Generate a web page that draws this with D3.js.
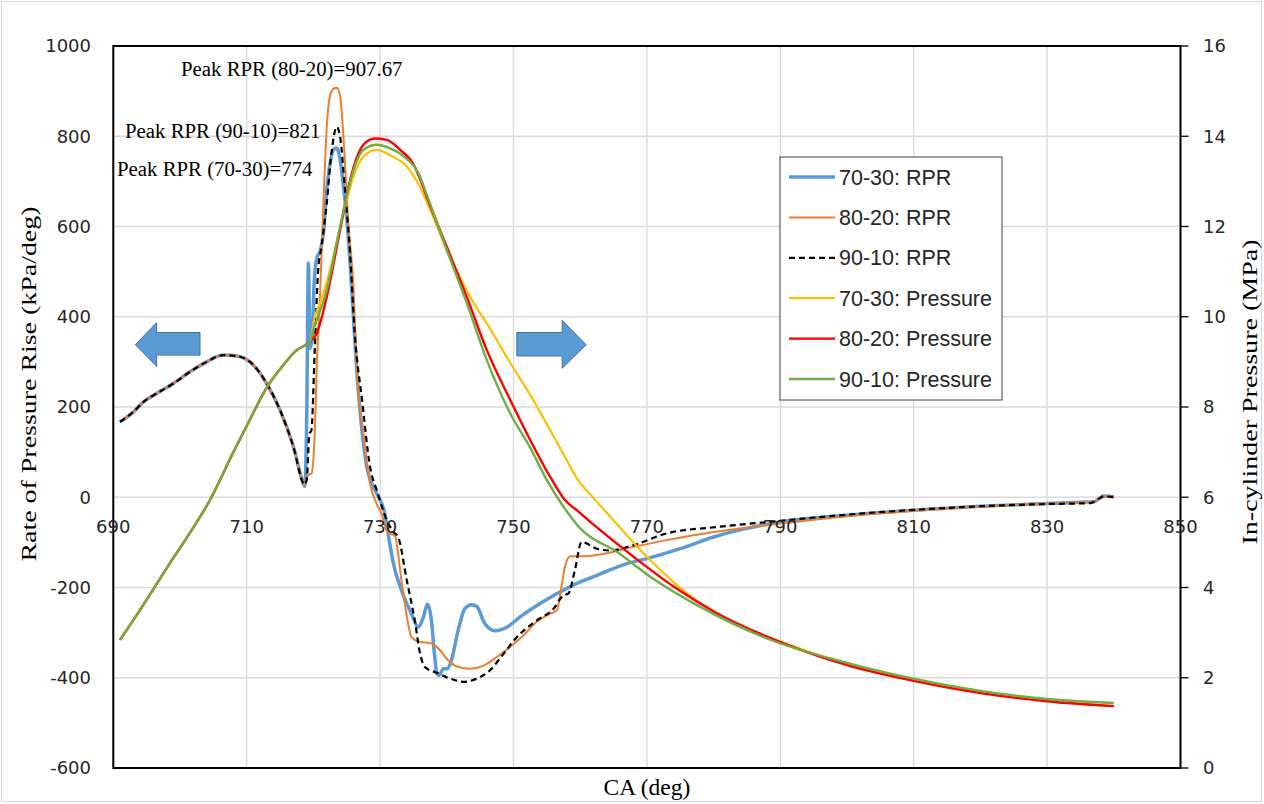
<!DOCTYPE html>
<html>
<head>
<meta charset="utf-8">
<script src="https://cdn.jsdelivr.net/npm/d3@7"></script>
<style>
body { margin: 0; background: #fff; }
</style>
</head>
<body>
<svg id="chart" width="1264" height="804"></svg>
<script>
// crank angle (deg) / rate of pressure rise (kPa/deg) -- identical for all blends before ignition
const rprCommon = [[691,167],[693,189],[694.5,211],[696.5,230],[699,252],[701.5,278],[704,300],[706.5,315],[708.5,313],[710.5,300],[713,252],[715,193],[717,112],[718.5,30]];

const rpr7030 = [[718.7,24],[719.0,180],[719.25,519],[719.5,330],[719.8,350],[720.1,470],[720.5,530],[721,545],[721.5,585],[722,680],[722.5,740],[723,770],[723.5,774],[724,748],[724.5,690],[725,620],[725.5,520],[726,400],[726.5,280],[727,190],[727.5,120],[728,67],[728.5,40],[729.5,8],[730.7,-36],[731.3,-90],[732,-147],[733.2,-206],[734.7,-258],[735.7,-288],[736.5,-265],[737.1,-237],[737.7,-273],[738.1,-340],[738.5,-390],[738.8,-395],[739.5,-380],[740.1,-380],[740.7,-361],[741.7,-295],[742.7,-247],[743.7,-238],[744.5,-242],[745.7,-280],[747.2,-296],[749,-288],[751,-265],[753.5,-240],[756.5,-214],[759.5,-191],[762.5,-173],[767,-147],[770,-136],[775,-114],[780,-88],[785,-69],[790,-55],[800,-40],[810,-29],[820,-20],[830,-14],[835,-11],[837,-10],[838,-1],[838.5,3],[840,1]];

const rpr8020 = [[718.6,28],[719.2,49],[719.7,52],[720.2,141],[720.5,289],[721,450],[721.5,650],[722,820],[722.5,890],[723,905],[723.5,907.67],[724,890],[724.5,800],[725.2,614],[726,466],[726.5,289],[727.5,141],[728.5,30],[729.5,-15],[730.2,-36],[731,-75],[731.5,-81],[732.2,-85],[733.2,-184],[734.2,-280],[734.7,-310],[736,-321],[737.5,-323],[739,-339],[740,-358],[741.5,-375],[743.5,-380],[745.5,-373],[747.5,-354],[749.5,-332],[751.5,-306],[753.5,-276],[755.5,-258],[756.5,-251],[757.1,-206],[757.7,-155],[758.5,-131],[760,-131],[762,-129],[768,-110],[773,-95],[780,-77],[788,-62],[800,-42],[810,-30],[820,-21],[830,-14],[836,-11],[837,-10],[838,-1],[838.5,2],[840,0]];

const rpr9010 = [[718.6,28],[719,38],[719.4,141],[719.7,148],[720.2,326],[720.7,500],[721.2,555],[722,651],[722.7,762],[723.5,821],[724,799],[724.7,688],[725.5,540],[726.2,363],[727.3,215],[728.5,67],[729.5,16],[731,-51],[732,-77],[732.7,-88],[734,-184],[735.2,-273],[736,-347],[736.7,-376],[738.5,-389],[740.5,-402],[742.5,-409],[744.5,-402],[746.5,-383],[748.5,-347],[750.5,-310],[753.5,-273],[756,-247],[757.5,-217],[758.2,-214],[759.2,-162],[760.2,-99],[762.5,-114],[764.5,-118],[768,-106],[773,-80],[780.5,-66],[788,-55],[800.5,-38],[810,-28],[820,-20],[830,-15],[836.5,-13],[838,-1],[838.5,2],[840,0]];

// crank angle (deg) / in-cylinder pressure (MPa)
const presCommon = [[691,2.84],[694,3.5],[698.5,4.54],[701,5.1],[704.5,5.94],[708,7.0],[710,7.58],[713,8.43],[715.5,8.93],[717.5,9.26],[719,9.39],[719.5,9.45]];

const pres7030 = [[720.2,10.0],[721,10.3],[722.5,11.04],[724.5,12.3],[726,13.1],[727.5,13.55],[729.5,13.70],[731.5,13.58],[734,13.33],[735.7,12.96],[737,12.55],[740,11.48],[743.5,10.44],[746.5,9.73],[749.5,8.98],[752.5,8.27],[755,7.62],[757.5,6.95],[759.5,6.42],[762,5.98],[764.5,5.57],[770,4.68],[776,3.87],[783,3.21],[790,2.80],[800,2.3],[810,1.95],[820,1.68],[830,1.5],[840,1.37]];

const pres8020 = [[720.5,9.63],[722,10.44],[724,11.92],[725.5,13.03],[727.5,13.81],[729.2,13.95],[731,13.92],[733,13.70],[735,13.38],[736,13.05],[737,12.65],[740,11.55],[743,10.44],[746,9.26],[749.5,8.16],[752.5,7.27],[755.5,6.45],[757.5,5.98],[760,5.65],[763,5.27],[768,4.68],[774,4.02],[780.5,3.43],[788,2.91],[800,2.28],[810,1.93],[820,1.66],[830,1.48],[840,1.37]];

const pres9010 = [[720,9.71],[722,10.59],[724,12.0],[725.7,13.10],[727.5,13.70],[729.5,13.81],[731.5,13.73],[734,13.5],[735.7,13.2],[737,12.7],[740,11.48],[743,10.3],[746,9.04],[749.5,7.86],[752.5,7.1],[755,6.38],[757.5,5.79],[760,5.31],[765.5,4.79],[770.5,4.24],[778,3.57],[788,2.87],[800,2.33],[810,1.98],[820,1.71],[830,1.53],[840,1.44]];

const xTicks = [690, 710, 730, 750, 770, 790, 810, 830, 850];
const yLeftTicks = [-600, -400, -200, 0, 200, 400, 600, 800, 1000];
const yRightTicks = [0, 2, 4, 6, 8, 10, 12, 14, 16];

const seriesNames = ['70-30: RPR', '80-20: RPR', '90-10: RPR', '70-30: Pressure', '80-20: Pressure', '90-10: Pressure'];
const peakLabels = ['Peak RPR (80-20)=907.67', 'Peak RPR (90-10)=821', 'Peak RPR (70-30)=774'];

const svg = d3.select('#chart');
const plot = { left: 113.3, right: 1180.5, top: 46, bottom: 768 };

const x = d3.scaleLinear().domain([690, 850]).range([plot.left, plot.right]);
const yL = d3.scaleLinear().domain([-600, 1000]).range([plot.bottom, plot.top]);
const yR = d3.scaleLinear().domain([0, 16]).range([plot.bottom, plot.top]);

// chart area frame
svg.append('rect').attr('x', 1.5).attr('y', 1.5).attr('width', 1260).attr('height', 800)
	.attr('fill', '#fff').attr('stroke', '#d9d9d9');

// gridlines
svg.append('g').selectAll('line').data(yLeftTicks).enter().append('line')
	.attr('x1', plot.left).attr('x2', plot.right)
	.attr('y1', d => yL(d)).attr('y2', d => yL(d))
	.attr('stroke', '#d9d9d9').attr('stroke-width', 1.3);
svg.append('g').selectAll('line').data(xTicks).enter().append('line')
	.attr('x1', d => x(d)).attr('x2', d => x(d))
	.attr('y1', plot.top).attr('y2', plot.bottom)
	.attr('stroke', '#d9d9d9').attr('stroke-width', 1.3);

// series lines
const styles = [
	{ data: rprCommon.concat(rpr7030), y: yL, color: '#5b9bd5', width: 3.5, dash: null },
	{ data: rprCommon.concat(rpr8020), y: yL, color: '#ed7d31', width: 2, dash: null },
	{ data: rprCommon.concat(rpr9010), y: yL, color: '#000', width: 2.2, dash: '6,4' },
	{ data: presCommon.concat(pres7030), y: yR, color: '#ffc000', width: 2.2, dash: null },
	{ data: presCommon.concat(pres8020), y: yR, color: '#ff0000', width: 2.4, dash: null },
	{ data: presCommon.concat(pres9010), y: yR, color: '#70ad47', width: 2.4, dash: null }
];

styles.forEach(s => {
	const line = d3.line().x(d => x(d[0])).y(d => s.y(d[1])).curve(d3.curveMonotoneX);
	svg.append('path').datum(s.data)
		.attr('d', line)
		.attr('fill', 'none')
		.attr('stroke', s.color)
		.attr('stroke-width', s.width)
		.attr('stroke-linejoin', 'round')
		.attr('stroke-dasharray', s.dash);
});

// plot border
svg.append('rect').attr('x', plot.left).attr('y', plot.top)
	.attr('width', plot.right - plot.left).attr('height', plot.bottom - plot.top)
	.attr('fill', 'none').attr('stroke', '#000').attr('stroke-width', 2);

// right axis ticks
svg.append('g').selectAll('line').data(yRightTicks).enter().append('line')
	.attr('x1', plot.right).attr('x2', plot.right + 8)
	.attr('y1', d => yR(d)).attr('y2', d => yR(d))
	.attr('stroke', '#000').attr('stroke-width', 1.3);

const tickFont = 'DejaVu Sans, Verdana, sans-serif';

// left tick labels
svg.append('g').selectAll('text').data(yLeftTicks).enter().append('text')
	.attr('x', 91).attr('y', d => yL(d))
	.attr('dy', '0.35em')
	.attr('text-anchor', 'end')
	.attr('font-family', tickFont).attr('font-size', 18).attr('fill', '#262626')
	.text(d => d);

// right tick labels
svg.append('g').selectAll('text').data(yRightTicks).enter().append('text')
	.attr('x', 1203).attr('y', d => yR(d))
	.attr('dy', '0.35em')
	.attr('font-family', tickFont).attr('font-size', 18).attr('fill', '#262626')
	.text(d => d);

// x tick labels sit just under the zero line
svg.append('g').selectAll('text').data(xTicks).enter().append('text')
	.attr('x', d => x(d)).attr('y', yL(0) + 36)
	.attr('text-anchor', 'middle')
	.attr('font-family', tickFont).attr('font-size', 18).attr('fill', '#262626')
	.text(d => d);

// axis titles
const serif = 'Liberation Serif, Times New Roman, serif';
svg.append('text')
	.attr('x', (plot.left + plot.right) / 2).attr('y', 795)
	.attr('text-anchor', 'middle')
	.attr('font-family', serif).attr('font-size', 23.5)
	.text('CA (deg)');
svg.append('text')
	.attr('transform', 'translate(36,' + 384 + ') rotate(-90)')
	.attr('text-anchor', 'middle')
	.attr('font-family', serif).attr('font-size', 22)
	.attr('textLength', 355).attr('lengthAdjust', 'spacingAndGlyphs')
	.text('Rate of Pressure Rise (kPa/deg)');
svg.append('text')
	.attr('transform', 'translate(1257,' + 392 + ') rotate(-90)')
	.attr('text-anchor', 'middle')
	.attr('font-family', serif).attr('font-size', 22)
	.attr('textLength', 305).attr('lengthAdjust', 'spacingAndGlyphs')
	.text('In-cylinder  Pressure (MPa)');

// peak annotations
const peakPos = [[181, 76], [125, 138], [117, 176]];
svg.append('g').selectAll('text').data(peakLabels).enter().append('text')
	.attr('x', (d, i) => peakPos[i][0]).attr('y', (d, i) => peakPos[i][1])
	.attr('font-family', serif).attr('font-size', 20.8)
	.text(d => d);

// direction arrows (in data units: deg, kPa/deg)
const arrowLeft = [[693.3,338],[696.5,387],[696.5,365],[703,365],[703,315],[696.5,315],[696.5,290]];
const arrowRight = [[750.5,365],[757.3,365],[757.3,392],[760.9,338],[757.3,286],[757.3,313],[750.5,313]];
[arrowLeft, arrowRight].forEach(a => {
	svg.append('polygon')
		.attr('points', a.map(p => x(p[0]) + ',' + yL(p[1])).join(' '))
		.attr('fill', '#5b9bd5').attr('stroke', '#41719c').attr('stroke-width', 1);
});

// legend
const legend = svg.append('g');
legend.append('rect').attr('x', 780).attr('y', 157).attr('width', 222).attr('height', 243)
	.attr('fill', '#fff').attr('stroke', '#404040').attr('stroke-width', 1);
const items = legend.selectAll('g').data(seriesNames).enter().append('g')
	.attr('transform', (d, i) => 'translate(0,' + (177 + i * 40.4) + ')');
items.append('line')
	.attr('x1', 789).attr('x2', 835).attr('y1', 0).attr('y2', 0)
	.attr('stroke', (d, i) => styles[i].color)
	.attr('stroke-width', (d, i) => styles[i].width)
	.attr('stroke-dasharray', (d, i) => styles[i].dash);
items.append('text')
	.attr('x', 839).attr('dy', '0.35em')
	.attr('font-family', 'Liberation Sans, Arial, sans-serif').attr('font-size', 21.5)
	.attr('fill', '#262626')
	.text(d => d);
</script>
</body>
</html>
